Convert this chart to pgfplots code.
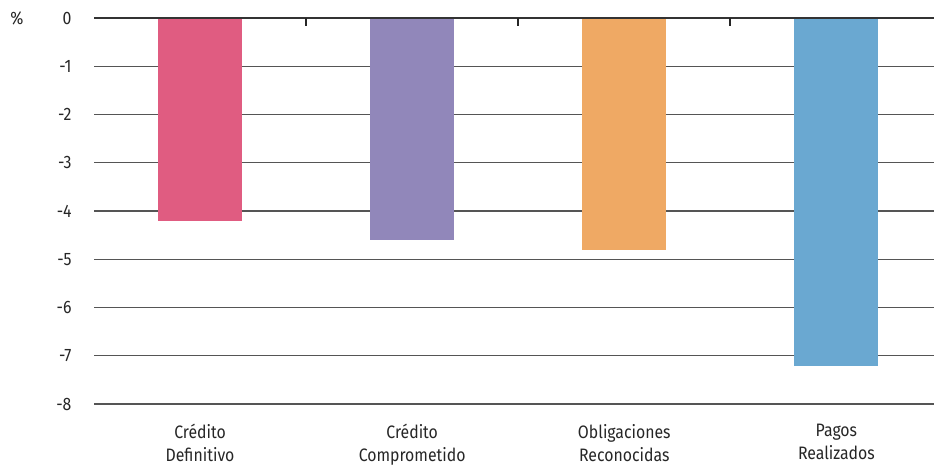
\documentclass[border=0pt]{standalone}
\usepackage{fontspec}
\setmainfont{Fira Sans}[FakeStretch=0.88]
\usepackage{pgfplots}
\pgfplotsset{compat=1.18}
\definecolor{cpink}{HTML}{E05C81}
\definecolor{cpurple}{HTML}{9187BA}
\definecolor{corange}{HTML}{EFA964}
\definecolor{cblue}{HTML}{6AA8D1}
\definecolor{cgrid}{HTML}{555555}
\begin{document}
\begin{tikzpicture}[x=1pt,y=1pt]
\useasboundingbox (0,0) rectangle (934,-466);
\begin{axis}[
  at={(94pt,-18pt)}, anchor=north west,
  width=840pt, height=386pt, scale only axis,
  xmin=-0.5, xmax=3.46, ymin=-8, ymax=0,
  axis line style={draw=none},
  ytick={-8,-7,-6,-5,-4,-3,-2,-1,0},
  yticklabels={-8,-7,-6,-5,-4,-3,-2,-1,0},
  ymajorgrids, grid style={cgrid, line width=1.1pt},
  yticklabel style={font=\fontsize{18}{20}\selectfont, color=black!85, xshift=-19pt},
  xtick={0,1,2,3},
  xticklabels={Crédito\\Definitivo, Crédito\\Comprometido, Obligaciones\\Reconocidas, Pagos\\Realizados},
  xticklabel style={align=center, font=\fontsize{18}{22.5}\selectfont, color=black!85, yshift=-17pt},
  major tick length=0pt,
  tick style={draw=none},
  clip=false,
]
\addplot[ybar, bar width=0.396, fill=cpink, draw=none] coordinates {(0,-4.21)};
\addplot[ybar, bar width=0.396, fill=cpurple, draw=none] coordinates {(1,-4.61)};
\addplot[ybar, bar width=0.396, fill=corange, draw=none] coordinates {(2,-4.81)};
\addplot[ybar, bar width=0.396, fill=cblue, draw=none] coordinates {(3,-7.21)};
\draw[black!80, line width=2pt] (axis cs:-0.5,0) -- (axis cs:3.46,0);
\draw[black!85, line width=1.8pt] (axis cs:0.5,0) -- ++(0pt,-8pt);
\draw[black!85, line width=1.8pt] (axis cs:1.5,0) -- ++(0pt,-8pt);
\draw[black!85, line width=1.8pt] (axis cs:2.5,0) -- ++(0pt,-8pt);
\end{axis}
\node[anchor=center, font=\fontsize{18}{20}\selectfont, color=black!85] at (17pt,-18pt) {\%};
\end{tikzpicture}
\end{document}
